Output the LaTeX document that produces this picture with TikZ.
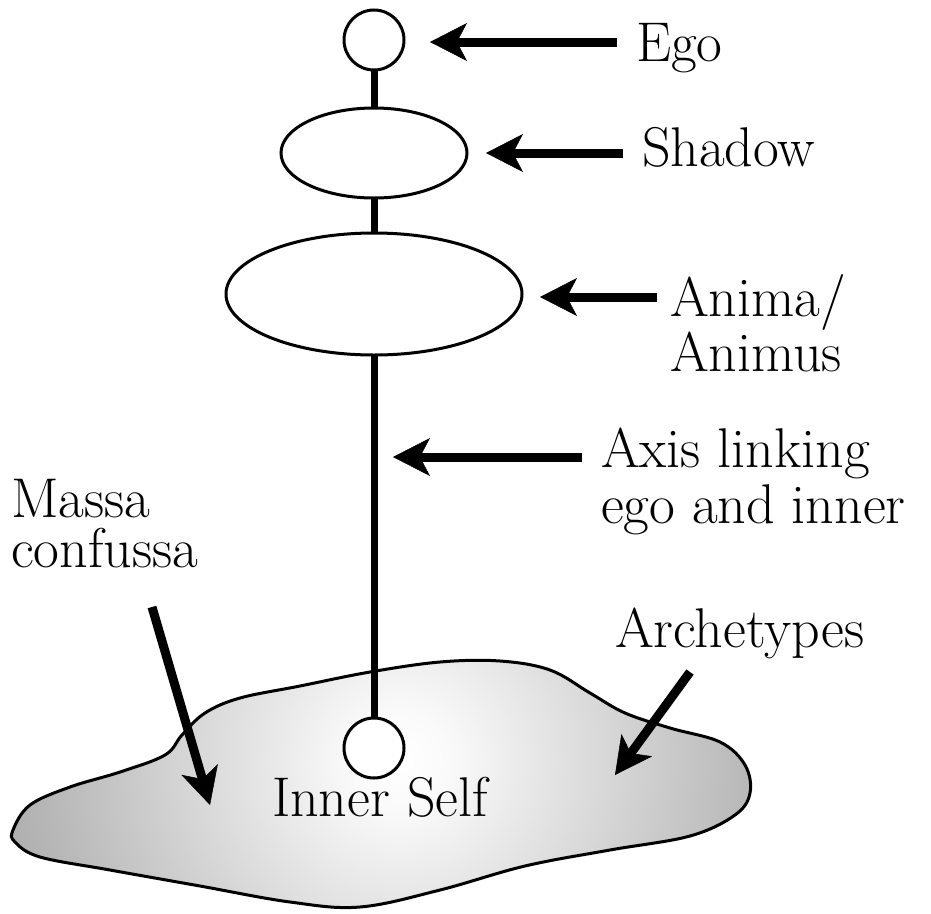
\documentclass[tikz,border=0pt]{standalone}
\usepackage{fontspec}
\usetikzlibrary{arrows.meta,shapes.geometric}
\pgfdeclareradialshading{blobshade}{\pgfpoint{0bp}{0bp}}{color(0bp)=(white); color(3bp)=(white!98!black); color(22bp)=(black!28); color(40bp)=(black!50); color(50bp)=(black!55)}
\begin{document}
\begin{tikzpicture}[x=1pt,y=-1pt,
  lbl/.style={inner sep=0pt,outer sep=0pt,anchor=base west,font=\fontsize{56}{56}\selectfont},
  ring/.style={circle,draw,line width=3pt,fill=white,minimum size=60pt,inner sep=0pt,outer sep=0pt},
  oval/.style={ellipse,draw,line width=3pt,fill=white,inner sep=0pt,outer sep=0pt},
  stem/.style={line width=7pt},
  arr/.style={line width=9pt,-{Stealth[length=37pt,width=38pt,inset=10pt,line width=0.5pt]}}]
\useasboundingbox (0,0) rectangle (931,913);
% blob
\def\blobpath{plot[smooth cycle,tension=0.6] coordinates {(13,830) (30,805) (70,787) (120,772) (165,755) (182,735) (205,713) (240,698) (300,686) (370,672) (440,662) (500,661) (550,670) (590,693) (625,713) (670,728) (720,742) (745,765) (750,793) (735,815) (690,836) (610,850) (525,866) (440,890) (360,907) (290,902) (200,886) (110,870) (40,857) (15,842)}}
\begin{scope}
\clip \blobpath;
\shade[shading=blobshade] (400,760) circle (400pt);
\end{scope}
\draw[line width=3pt] \blobpath;
% nodes
\node[ring] (ego) at (374,40) {};
\node[oval,minimum width=186pt,minimum height=90pt] (shadow) at (374,153) {};
\node[oval,minimum width=296pt,minimum height=122pt] (anima) at (374,294) {};
\node[ring] (inner) at (374,748) {};
\draw[stem] (ego.south) -- (shadow.north);
\draw[stem] (shadow.south) -- (anima.north);
\draw[stem] (anima.south) -- (inner.north);
% labels
\node[lbl] (tego) at (636,61) {Ego};
\node[lbl] (tshadow) at (642,166) {Shadow};
\node[lbl] (tanima1) at (670,316) {Anima/};
\node[lbl] (tanima2) at (670,371) {Animus};
\node[lbl] (taxis1) at (601,467) {Axis linking};
\node[lbl] (taxis2) at (601,523) {ego and inner};
\node[lbl] (tmassa1) at (11,517) {Massa};
\node[lbl] (tmassa2) at (11,567) {confussa};
\node[lbl] (tarch) at (615,647) {Archetypes};
\node[lbl] (tinner) at (272,816) {Inner Self};
% arrow coordinates
\coordinate (a1s) at (617,42);  \coordinate (a1e) at (430,42);
\coordinate (a2s) at (623,153); \coordinate (a2e) at (486,153);
\coordinate (a3s) at (657,297); \coordinate (a3e) at (540,297);
\coordinate (a4s) at (582,457); \coordinate (a4e) at (393,457);
\coordinate (a5s) at (152,607); \coordinate (a5e) at (210,805);
\coordinate (a6s) at (690,672); \coordinate (a6e) at (615,775);
\draw[arr] (a1s) -- (a1e);
\draw[arr] (a2s) -- (a2e);
\draw[arr] (a3s) -- (a3e);
\draw[arr] (a4s) -- (a4e);
\draw[arr] (a5s) -- (a5e);
\draw[arr] (a6s) -- (a6e);
\end{tikzpicture}
\end{document}
